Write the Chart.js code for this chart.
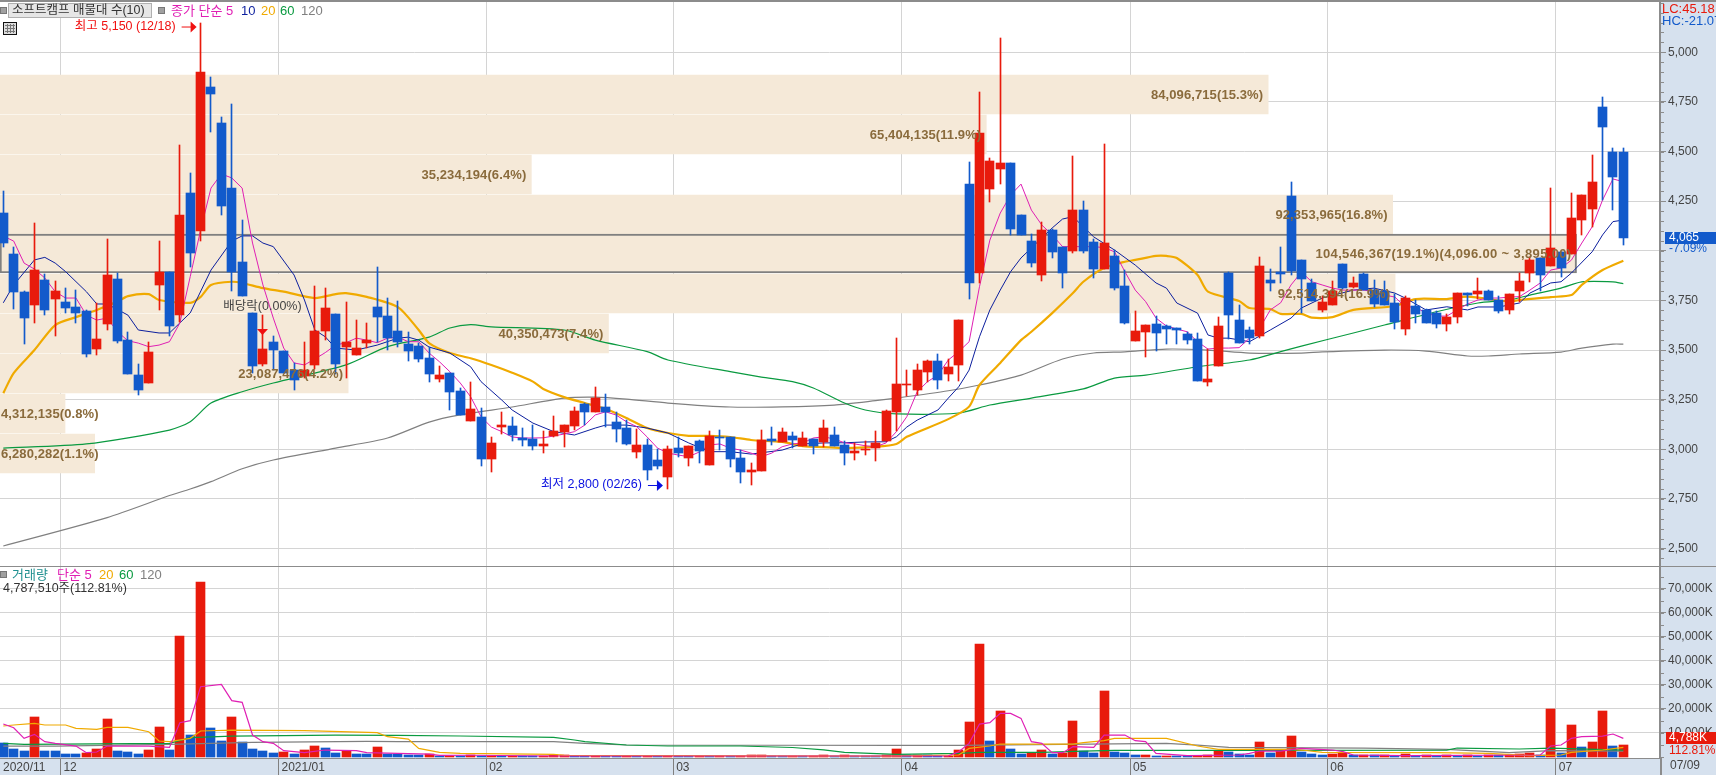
<!DOCTYPE html>
<html>
<head>
<meta charset="utf-8">
<script src="https://cdn.jsdelivr.net/npm/chart.js@4"></script>
<style>
  html, body { margin: 0; padding: 0; background: #fff; overflow: hidden; }
  canvas { position: absolute; left: 0; display: block; }
  #priceChart { top: 0; }
  #volumeChart { top: 566px; }
</style>
</head>
<body>
<canvas id="priceChart" width="1716" height="566"></canvas>
<canvas id="volumeChart" width="1716" height="209"></canvas>
<script>
// daily candles 2020/11 ~ 2021/07/09
const candleOpen = [
  4190,3985,3790,3725,3855,3755,3740,3715,3695,3505,
  3630,3860,3550,3375,3335,3830,3895,3675,4290,4100,
  4825,4645,4315,3945,3685,3430,3540,3495,3400,3370,
  3425,3595,3680,3515,3475,3535,3715,3670,3595,3530,
  3520,3460,3355,3385,3295,3145,3165,2950,3110,3115,
  3055,3050,3015,3065,3085,3115,3230,3190,3215,3140,
  3105,2985,3020,2945,2860,3005,2955,3040,2920,3060,
  3060,2955,2885,2890,3050,3035,3065,3015,3050,3035,
  3070,3020,2980,2995,3005,3040,3190,3325,3300,3390,
  3445,3380,3425,4335,3890,4310,4410,4440,4180,4050,
  3880,4105,4020,4000,4205,4045,3910,3975,3825,3545,
  3590,3630,3620,3610,3580,3555,3340,3420,3890,3650,
  3600,3570,3855,3895,4275,3955,3840,3700,3725,3935,
  3820,3885,3805,3800,3735,3605,3720,3700,3685,3630,
  3665,3785,3780,3800,3750,3700,3795,3890,3965,3925,
  3995,3985,4155,4210,4725,4500,4500];
const candleClose = [
  4040,3790,3660,3905,3700,3795,3710,3685,3480,3555,
  3880,3545,3380,3300,3490,3895,3620,4180,3990,4900,
  4790,4225,3895,3770,3420,3505,3500,3385,3350,3400,
  3595,3710,3430,3540,3510,3550,3665,3560,3540,3495,
  3455,3380,3375,3290,3175,3205,2950,3030,3120,3070,
  3045,3015,3025,3090,3120,3195,3190,3260,3190,3100,
  3025,3020,2895,2915,3000,2980,3015,2990,3065,3055,
  2950,2885,2895,3045,3040,3085,3045,3055,3015,3105,
  3015,2980,2990,3000,3030,3195,3330,3330,3400,3445,
  3350,3415,3650,3840,4595,4450,4440,4110,4080,3940,
  4105,3995,3890,4205,4000,3910,4040,3815,3635,3595,
  3625,3585,3605,3600,3550,3345,3355,3620,3675,3535,
  3560,3925,3840,3885,3900,3860,3745,3740,3795,3815,
  3840,3805,3730,3725,3640,3760,3680,3635,3630,3665,
  3785,3775,3800,3750,3695,3780,3850,3955,3880,4015,
  3915,4165,4280,4345,4625,4370,4065];
const candleHigh = [
  4300,4020,3795,4140,3885,3850,3815,3805,3700,3735,
  4060,3890,3590,3430,3540,4050,3895,4535,4390,5150,
  4875,4675,4740,4155,3685,3675,3570,3495,3435,3540,
  3825,3815,3680,3740,3650,3635,3920,3760,3745,3590,
  3535,3515,3420,3385,3310,3340,3210,3060,3190,3165,
  3105,3120,3090,3170,3120,3215,3235,3315,3280,3190,
  3150,3100,3050,3000,3015,3060,3015,3045,3090,3095,
  3060,2995,2930,3095,3110,3105,3085,3085,3050,3150,
  3110,3040,3030,3040,3090,3200,3560,3400,3430,3450,
  3480,3455,3650,4445,4800,4470,5070,4440,4180,4085,
  4145,4110,4020,4480,4250,4060,4540,4005,3905,3695,
  3625,3670,3625,3610,3590,3585,3505,3665,3895,3725,
  3615,3970,3910,4020,4345,3955,3860,3770,3850,3935,
  3870,3890,3855,3850,3780,3770,3750,3705,3695,3680,
  3785,3785,3865,3805,3770,3780,3890,3970,3965,4315,
  3995,4290,4280,4485,4775,4520,4520];
const candleLow = [
  4020,3705,3530,3635,3675,3570,3685,3635,3465,3475,
  3600,3535,3380,3275,3335,3700,3570,3640,3920,4050,
  4600,4180,3795,3770,3385,3420,3400,3385,3300,3360,
  3405,3550,3380,3360,3475,3510,3540,3500,3515,3445,
  3440,3340,3340,3200,3175,3145,2915,2885,3075,3040,
  3015,2995,2980,3060,3010,3095,3120,3190,3110,3035,
  3020,2955,2845,2900,2800,2960,2915,2930,2920,2995,
  2910,2830,2820,2890,3020,3035,3005,3015,2975,3010,
  3015,2920,2945,2970,2940,3040,3090,3270,3275,3340,
  3305,3345,3345,3755,3840,4245,4335,4080,4080,3920,
  3850,3965,3815,3990,3990,3865,3910,3805,3630,3545,
  3465,3495,3530,3530,3530,3345,3320,3420,3555,3535,
  3530,3560,3795,3840,3880,3685,3745,3690,3725,3810,
  3815,3805,3715,3725,3605,3575,3635,3635,3610,3595,
  3635,3720,3755,3750,3685,3680,3740,3845,3800,3925,
  3870,3985,4080,4120,4255,4205,4030];

// volume in thousands of shares
const volume = [
  5556,3195,2361,16530,2361,2300,1111,1100,1528,3195,
  15700,2361,1945,1111,2778,12360,2778,50280,9028,72780,
  11945,6528,16530,6111,3195,2361,1528,1945,1111,2778,
  4445,3611,1528,2361,1111,1100,4028,1111,1090,694,
  690,972,417,450,430,520,400,480,410,470,
  380,360,450,500,540,420,390,460,350,330,
  400,320,370,340,420,360,300,380,290,350,
  340,400,700,730,350,320,380,300,360,700,
  450,700,420,400,380,700,3200,500,550,500,
  450,480,2780,14450,46950,6530,19030,3200,1110,1670,
  2780,1110,1530,14860,2220,1670,27360,1950,1530,700,
  720,400,420,410,400,480,500,2360,1800,1110,
  700,6110,1530,2780,8610,1945,1110,700,1110,1530,
  700,830,500,560,420,1110,400,500,420,520,
  430,560,480,600,590,640,970,1530,700,19860,
  1670,13195,4030,6110,19030,4445,4788];

// price moving averages
const ma5 = [
  4074,4049,3938,3908,3863,3794,3762,3762,3676,3651,
  3661,3592,3547,3535,3517,3525,3542,3636,3870,4105,
  4316,4387,4367,4316,4039,3828,3661,3510,3435,3425,
  3455,3487,3525,3537,3560,3550,3537,3560,3565,3542,
  3542,3485,3441,3391,3334,3265,3164,3112,3089,3062,
  3057,3057,3058,3067,3077,3089,3122,3173,3189,3173,
  3139,3114,3062,3006,2981,2971,2963,2986,3022,3027,
  3006,2996,2981,2963,2981,3013,3027,3032,3057,3063,
  3052,3033,3027,3018,3013,3032,3089,3164,3290,3341,
  3374,3450,3492,3542,3819,4054,4190,4281,4336,4205,
  4130,4080,4021,4021,4021,4021,4016,3995,3895,3802,
  3744,3661,3621,3606,3592,3542,3505,3510,3510,3512,
  3560,3611,3702,3738,3828,3893,3844,3828,3812,3802,
  3802,3802,3794,3777,3767,3718,3716,3686,3671,3671,
  3702,3732,3752,3762,3762,3767,3769,3802,3838,3903,
  3913,3953,4039,4121,4256,4362,4348];
const ma5Days = ma5.map((v, i) => i);

const ma10Days = [0,1,3,4,5,6,8,9,10,12,13,15,16,18,20,22,23,24,25,26,28,29,30,31,32,34,36,38,39,40,41,43,45,46,48,49,51,53,55,57,58,60,62,64,65,66,68,70,72,75,76,77,79,81,83,85,86,87,88,90,91,92,93,94,95,96,97,98,101,102,103,105,107,109,111,112,113,115,116,117,118,120,122,124,125,127,130,132,134,135,137,139,141,142,144,146,147,149,150,151,153,154,155,156];
const ma10 = [3738,3828,3954,3967,3938,3895,3794,3732,3732,3676,3601,3586,3586,3687,3903,4049,4075,4075,4039,4021,3878,3752,3601,3567,3510,3500,3525,3560,3565,3550,3515,3485,3416,3341,3248,3198,3132,3089,3072,3107,3122,3122,3107,3082,3057,3032,2988,2988,2976,2996,3013,3027,3032,3033,3037,3038,3063,3112,3147,3198,3258,3315,3399,3567,3702,3802,3895,3964,4115,4160,4172,4070,4004,3928,3838,3812,3737,3686,3576,3560,3560,3542,3601,3661,3712,3762,3802,3812,3787,3762,3702,3718,3702,3717,3717,3737,3787,3838,3844,3888,3995,4080,4147,4155];

const ma20Days = [0,1,3,5,7,9,11,12,14,15,18,19,20,22,23,25,27,30,32,33,35,38,40,41,43,45,47,49,51,52,54,56,58,60,62,64,66,68,70,72,75,77,79,81,84,86,87,91,93,94,96,98,99,101,103,104,106,108,109,111,112,113,115,116,119,120,122,123,125,126,128,130,134,136,139,141,145,146,149,151,152,154,156];
const ma20 = [3283,3384,3500,3626,3666,3702,3744,3772,3782,3752,3738,3768,3828,3844,3838,3812,3794,3762,3782,3787,3768,3716,3601,3535,3485,3459,3425,3386,3341,3304,3263,3233,3203,3158,3107,3082,3068,3068,3062,3047,3037,3016,3011,3006,3013,3027,3063,3152,3215,3324,3435,3550,3592,3686,3787,3844,3913,3945,3954,3974,3974,3964,3878,3794,3747,3712,3707,3682,3682,3663,3666,3702,3722,3757,3757,3769,3744,3752,3767,3777,3828,3903,3950];

const ma60Days = [0,8,16,18,20,23,26,33,37,41,43,45,47,54,57,62,64,70,73,76,78,81,83,86,92,95,99,104,107,110,115,120,123,125,130,133,138,142,145,147,150,152,155,156];
const ma60 = [3006,3027,3097,3139,3233,3290,3334,3425,3517,3565,3611,3628,3617,3601,3550,3492,3450,3391,3364,3341,3309,3233,3198,3178,3183,3223,3258,3304,3359,3374,3416,3450,3492,3520,3586,3626,3693,3737,3752,3777,3812,3843,3843,3834];

const ma120Days = [0,10,16,18,20,23,26,32,37,41,44,49,54,57,60,64,70,75,80,84,86,91,94,98,102,105,108,112,116,120,125,127,133,137,141,143,146,150,152,155,156];
const ma120 = [2513,2656,2767,2800,2837,2902,2946,3006,3057,3137,3173,3213,3258,3263,3253,3233,3213,3214,3223,3245,3258,3295,3324,3374,3455,3485,3491,3505,3500,3485,3485,3491,3500,3495,3470,3470,3480,3490,3510,3530,3530];

// volume moving averages
const volMa5Days = [0,1,2,3,4,5,7,8,9,10,14,16,17,18,19,21,22,23,24,25,26,27,29,31,34,35,41,42,45,53,91,92,93,94,95,96,97,98,99,100,101,102,103,105,106,108,109,110,111,114,119,120,121,123,125,128,129,130,135,148,149,150,151,152,154,155,156];
const volMa5 = [13612,12080,7640,9310,6250,5560,4440,1670,1945,4445,4445,3890,14170,15000,29170,30140,23340,22640,9030,6250,5560,2500,1670,2780,2500,1670,1110,560,600,300,350,2080,5560,13610,14170,18060,18060,15970,6250,5560,1670,1670,4170,3890,9030,9030,6670,6250,1390,420,700,1390,2360,2360,3470,2780,2080,700,450,700,4450,4860,7640,8330,8610,9445,7640];

const volMa20Days = [0,1,3,4,6,7,9,10,12,14,15,16,18,19,22,29,36,37,39,40,42,44,53,54,85,92,93,95,96,103,104,106,107,112,115,117,124,125,127,138,143,147,150,151,154,156];
const volMa20 = [12780,13200,13890,13200,13200,11810,11390,12220,12220,10420,6530,6250,7640,10700,11110,10830,10000,8330,7360,3470,1830,1400,1000,583,200,700,3470,4445,5280,5280,5830,6670,7640,7640,4445,3060,3060,2780,1800,1670,1390,420,700,1800,2780,3890];

const volMa60Days = [0,2,16,18,22,32,38,44,53,55,56,60,64,71,76,79,81,86,92,94,100,104,107,118,139,140,146,149,156];
const volMa60 = [5556,5140,5560,7920,8610,9030,8920,8620,8080,6960,6250,4880,4460,4460,3830,2830,1830,1000,1390,1800,1800,2360,2640,2640,2780,3610,3200,3610,2780];

const volMa120Days = [0,5,16,24,35,38,53,56,60,86,92,112,115,118,131,139,145,149,156];
const volMa120 = [4440,4440,5140,5970,6390,6250,6250,5560,4880,4750,4720,5560,4860,3890,3610,3060,1670,2500,2360];

// volume profile, top bin first
const profilePrice = [4788,4586,4385,4183,3987,3785,3583,3381,3180,2978];
const profileVolume = [84096715,65404135,35234194,92353965,104546367,92514394,40350473,23087476,4312135,6280282];
const profilePercent = ['15.3','11.9','6.4','16.8','19.1','16.9','7.4','4.2','0.8','1.1'];
const profileRange = '(4,096.00 ~ 3,895.00)';

const priceTicks = [2500,2750,3000,3250,3500,3750,4000,4250,4500,4750,5000];
const volumeTicks = [10000,20000,30000,40000,50000,60000,70000];
const monthTicks = [-0.318,5.5,26.5,46.5,64.5,86.5,108.5,127.5,149.5];
const monthLabels = ['2020/11','12','2021/01','02','03','04','05','06','07'];

const days = candleOpen.map((v, i) => i);
const RED = '#e81a0c', BLUE = '#125acb', GRID = '#d4d4d4', AXIS = '#8c8c8c', STRIP = '#d6e1ee';
const MAGENTA = '#e01fb4', NAVY = '#0c1f9e', GOLD = '#f0aa00', GREEN = '#0a9a40', GRAY = '#808080';
const FONT = '"Liberation Sans","Noto Sans CJK KR",sans-serif';

const points = (xs, ys) => xs.map((x, i) => ({ x: x, y: ys[i] }));
const maLine = (xs, ys, color, width, order, tension) => ({
  type: 'line', data: points(xs, ys), borderColor: color, borderWidth: width,
  pointRadius: 0, tension: tension || 0, fill: false, order: order
});

function text(ctx, str, x, y, color, font, align) {
  ctx.font = font || '12px ' + FONT;
  ctx.fillStyle = color;
  ctx.textAlign = align || 'left';
  ctx.textBaseline = 'middle';
  ctx.fillText(str, x, y);
}

function arrow(ctx, x0, x1, y, color) {
  ctx.strokeStyle = color;
  ctx.fillStyle = color;
  ctx.lineWidth = 1;
  ctx.beginPath();
  ctx.moveTo(x0, y + 0.5);
  ctx.lineTo(x1 - 5, y + 0.5);
  ctx.stroke();
  ctx.beginPath();
  ctx.moveTo(x1 - 6, y - 5);
  ctx.lineTo(x1, y + 0.5);
  ctx.lineTo(x1 - 6, y + 6);
  ctx.fill();
}

function marker(ctx, x, y) {
  ctx.fillStyle = '#a0a0a0';
  ctx.fillRect(x, y, 5, 5);
  ctx.strokeStyle = '#777';
  ctx.lineWidth = 1;
  ctx.strokeRect(x - 0.5, y - 0.5, 6, 6);
}

function minorTicks(ctx, scale, step) {
  ctx.strokeStyle = AXIS;
  ctx.lineWidth = 1;
  ctx.beginPath();
  for (let v = Math.ceil(scale.min / step) * step; v <= scale.max; v += step) {
    const y = Math.round(scale.getPixelForValue(v)) + 0.5;
    ctx.moveTo(1661, y);
    ctx.lineTo(1664, y);
  }
  ctx.stroke();
}

// strip colour around the white plot area
const backdrop = {
  id: 'backdrop',
  beforeDraw(chart) {
    const ctx = chart.ctx, a = chart.chartArea;
    ctx.save();
    ctx.fillStyle = STRIP;
    ctx.fillRect(0, 0, chart.width, chart.height);
    ctx.fillStyle = '#fff';
    ctx.fillRect(a.left, 0, a.right - a.left, a.bottom);
    ctx.restore();
  }
};

// keep bars on whole pixels like the original
const snapBars = {
  id: 'snapBars',
  afterDatasetsUpdate(chart) {
    chart.data.datasets.forEach((ds, k) => {
      if (ds.type !== 'bar') return;
      chart.getDatasetMeta(k).data.forEach(el => {
        if (ds.indexAxis === 'y') {
          el.y = Math.floor(el.y) + 0.5;
          return;
        }
        el.x = Math.floor(el.x) + 0.5;
        el.y = Math.round(el.y);
        el.base = Math.round(el.base);
        if (el.y === el.base) el.y -= 1;
      });
    });
  }
};

const priceOverlay = {
  id: 'priceOverlay',
  afterDraw(chart) {
    const ctx = chart.ctx, sx = chart.scales.x, sy = chart.scales.y;
    ctx.save();

    // profile labels sit on top of the candles
    const bandMeta = chart.getDatasetMeta(chart.data.datasets.findIndex(d => d.label === 'profile'));
    const labelFont = 'bold 13px ' + FONT;
    bandMeta.data.forEach((el, i) => {
      let str = profileVolume[i].toLocaleString('en-US') + '(' + profilePercent[i] + '%)';
      const top = profileVolume[i] === Math.max(...profileVolume);
      if (top) str += profileRange;
      ctx.letterSpacing = top ? '0.35px' : '0.1px';
      ctx.font = labelFont;
      const fits = ctx.measureText(str).width < el.x - 6;
      text(ctx, str, fits ? el.x - 5 : 1, el.y + 0.5, '#8a6b3c', labelFont, fits ? 'right' : 'left');
    });
    ctx.letterSpacing = '0px';

    // top border
    ctx.fillStyle = AXIS;
    ctx.fillRect(0, 0, chart.width, 2);

    // title bar
    ctx.fillStyle = '#e6e6e6';
    ctx.fillRect(8.5, 3.5, 143, 14);
    ctx.strokeStyle = '#b0b0b0';
    ctx.lineWidth = 1;
    ctx.strokeRect(8.5, 3.5, 143, 14);
    marker(ctx, 1, 8);
    text(ctx, '소프트캠프 매물대 수(10)', 12, 11, '#333', '12.5px ' + FONT);
    marker(ctx, 159, 8);
    const legendFont = '13px ' + FONT;
    text(ctx, '종가 단순 5', 171, 11, MAGENTA, legendFont);
    text(ctx, '10', 241, 11, NAVY, legendFont);
    text(ctx, '20', 261, 11, GOLD, legendFont);
    text(ctx, '60', 280, 11, GREEN, legendFont);
    text(ctx, '120', 301, 11, GRAY, legendFont);

    // little table icon
    ctx.fillStyle = '#ddd';
    ctx.fillRect(4, 22, 12, 12);
    ctx.strokeStyle = '#111';
    ctx.strokeRect(3.5, 22.5, 13, 12);
    ctx.strokeStyle = '#777';
    ctx.beginPath();
    [7.5, 10.5, 13.5].forEach(x => { ctx.moveTo(x, 24); ctx.lineTo(x, 33); });
    [25.5, 28.5, 31.5].forEach(y => { ctx.moveTo(5, y); ctx.lineTo(15, y); });
    ctx.stroke();

    // high / low / dividend notes hang off their candles
    const markFont = '12.5px ' + FONT;
    const hx = sx.getPixelForValue(19), hy = sy.getPixelForValue(candleHigh[19]) + 4;
    text(ctx, '최고 5,150 (12/18)', hx - 25, hy, '#f01010', markFont, 'right');
    arrow(ctx, hx - 19, hx - 4, hy, '#f01010');
    const lx = sx.getPixelForValue(64), ly = sy.getPixelForValue(candleLow[64]) - 4;
    text(ctx, '최저 2,800 (02/26)', lx - 26, ly, '#0a10e0', markFont, 'right');
    arrow(ctx, lx - 20, lx - 5, ly, '#0a10e0');
    const dx = Math.floor(sx.getPixelForValue(25)) + 0.5;
    text(ctx, '배당락(0.00%)', dx, 307, '#444', markFont, 'center');
    ctx.fillStyle = '#f01010';
    ctx.beginPath();
    ctx.moveTo(dx - 5.5, 329);
    ctx.lineTo(dx + 5.5, 329);
    ctx.lineTo(dx, 335);
    ctx.fill();

    // right strip
    minorTicks(ctx, sy, 50);
    const sideFont = '13px ' + FONT;
    text(ctx, 'LC:45.18', 1662, 9, '#e81a0c', sideFont);
    text(ctx, 'HC:-21.07', 1662, 21, '#125acb', sideFont);
    const cy = Math.round(sy.getPixelForValue(candleClose[156]));
    ctx.fillStyle = BLUE;
    ctx.fillRect(1665, cy - 6, 51, 12);
    text(ctx, '4,065', 1669, cy, '#fff', '12px ' + FONT);
    text(ctx, '-7.09%', 1669, cy + 11, BLUE, '12px ' + FONT);
    ctx.restore();
  }
};

const volumeOverlay = {
  id: 'volumeOverlay',
  afterDraw(chart) {
    const ctx = chart.ctx, sy = chart.scales.y, a = chart.chartArea;
    ctx.save();
    ctx.fillStyle = AXIS;
    ctx.fillRect(0, 0, chart.width, 1);
    marker(ctx, 1, 6);
    const legendFont = '13px ' + FONT;
    text(ctx, '거래량', 12, 9, '#1f9090', legendFont);
    text(ctx, '단순 5', 57, 9, MAGENTA, legendFont);
    text(ctx, '20', 99, 9, GOLD, legendFont);
    text(ctx, '60', 119, 9, GREEN, legendFont);
    text(ctx, '120', 140, 9, GRAY, legendFont);
    text(ctx, '4,787,510주(112.81%)', 3, 22.5, '#333', '12.5px ' + FONT);

    minorTicks(ctx, sy, 5000);
    ctx.fillStyle = AXIS;
    ctx.fillRect(a.right, a.bottom, 2, chart.height - a.bottom);
    text(ctx, '07/09', 1670, 200, '#444', '12px ' + FONT);
    ctx.fillStyle = RED;
    ctx.fillRect(1666, 166, 50, 12);
    text(ctx, '4,788K', 1669, 172, '#fff', '12px ' + FONT);
    text(ctx, '112.81%', 1669, 184.5, RED, '12px ' + FONT);
    ctx.restore();
  }
};

// labels at the edge of an axis would otherwise push the plot area in
const noPadding = s => { s.paddingTop = s.paddingBottom = s.paddingLeft = s.paddingRight = 0; };

const xScale = (showLabels) => ({
  type: 'linear', min: -0.318, max: 159.53, offset: false,
  afterBuildTicks: s => { s.ticks = monthTicks.map(value => ({ value })); },
  afterFit: s => { s.height = showLabels ? 17 : 0; noPadding(s); },
  border: { display: showLabels, color: AXIS, width: 1 },
  grid: {
    offset: false, drawTicks: showLabels, tickLength: 17,
    color: c => c.index === 0 ? 'transparent' : GRID,
    tickColor: c => c.index === 0 ? 'transparent' : GRAY
  },
  ticks: {
    display: showLabels, autoSkip: false, maxRotation: 0, minRotation: 0, align: 'start',
    padding: -15, labelOffset: 3, color: '#444', font: { size: 12, family: FONT },
    callback: (v, i) => monthLabels[i]
  }
});

const yScale = (min, max, tickValues, label) => ({
  type: 'linear', position: 'right', min: min, max: max, offset: false,
  afterBuildTicks: s => { s.ticks = tickValues.map(value => ({ value })); },
  afterFit: s => { s.width = 56; noPadding(s); },
  border: { color: AXIS, width: 2 },
  grid: { offset: false, color: GRID, tickColor: AXIS, tickLength: 6 },
  ticks: {
    autoSkip: false, padding: 2, color: '#444', font: { size: 12, family: FONT },
    callback: label
  }
});

const baseOptions = {
  responsive: false, animation: false, events: [],
  plugins: { legend: { display: false }, tooltip: { enabled: false } }
};

new Chart(document.getElementById('priceChart').getContext('2d'), {
  type: 'bar',
  data: {
    datasets: [
      {
        type: 'bar', data: days.map(i => ({ x: i, y: [candleOpen[i], candleClose[i]] })),
        backgroundColor: days.map(i => candleClose[i] >= candleOpen[i] ? RED : BLUE),
        barThickness: 9, grouped: false, order: 0
      },
      {
        type: 'bar', data: days.map(i => ({ x: i, y: [candleLow[i], candleHigh[i]] })),
        backgroundColor: days.map(i => candleClose[i] >= candleOpen[i] ? RED : BLUE),
        barThickness: 1, grouped: false, order: 1
      },
      maLine(ma5Days, ma5, MAGENTA, 1, 2),
      maLine(ma10Days, ma10, NAVY, 1, 3),
      maLine(ma20Days, ma20, GOLD, 2.2, 4, 0.25),
      maLine(ma60Days, ma60, GREEN, 1.2, 5, 0.25),
      maLine(ma120Days, ma120, GRAY, 1.2, 6, 0.25),
      {
        type: 'bar', label: 'profile', indexAxis: 'y', xAxisID: 'xv', yAxisID: 'y',
        data: points(profileVolume, profilePrice),
        backgroundColor: '#f5e9d8', barThickness: 39, grouped: false, order: 10,
        borderColor: GRAY, borderSkipped: false,
        borderWidth: c => profileVolume[c.dataIndex] === Math.max(...profileVolume) ? 2 : 0
      }
    ]
  },
  options: Object.assign({}, baseOptions, {
    layout: { padding: { top: 2 } },
    scales: {
      x: xScale(false),
      xv: { type: 'linear', axis: 'x', display: false, min: 0, max: 110080000, offset: false, grid: { offset: false } },
      y: yScale(2412.1, 5253.4, priceTicks, v => v === 4000 ? '' : v.toLocaleString('en-US'))
    }
  }),
  plugins: [backdrop, snapBars, priceOverlay]
});

new Chart(document.getElementById('volumeChart').getContext('2d'), {
  type: 'bar',
  data: {
    datasets: [
      maLine(volMa5Days, volMa5, MAGENTA, 1.2, 1),
      maLine(volMa20Days, volMa20, GOLD, 1.2, 2),
      maLine(volMa60Days, volMa60, GREEN, 1.2, 3),
      maLine(volMa120Days, volMa120, GRAY, 1.2, 4),
      {
        type: 'bar', data: days.map(i => ({ x: i, y: volume[i] })),
        backgroundColor: days.map(i => i > 0 && volume[i] < volume[i - 1] ? BLUE : (i === 0 ? BLUE : RED)),
        barThickness: 9, grouped: false, order: 5
      }
    ]
  },
  options: Object.assign({}, baseOptions, {
    layout: { padding: { top: 1 } },
    scales: {
      x: xScale(true),
      y: yScale(-542, 79042, volumeTicks, v => v.toLocaleString('en-US') + 'K')
    }
  }),
  plugins: [backdrop, snapBars, volumeOverlay]
});
</script>
</body>
</html>
